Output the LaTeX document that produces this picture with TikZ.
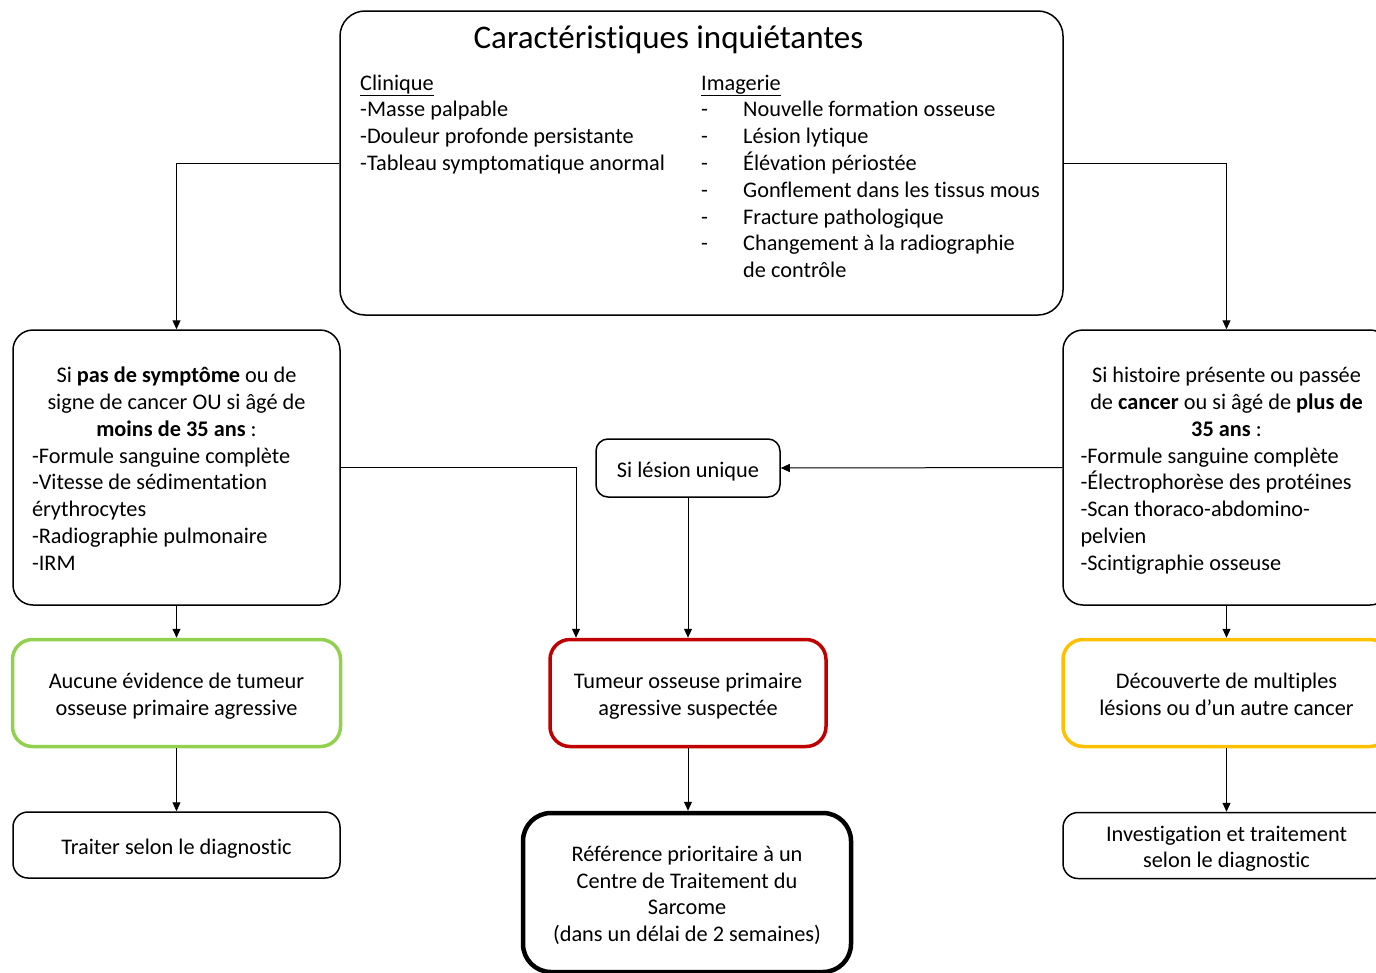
\documentclass[tikz,border=0pt]{standalone}
\usepackage{fontspec}
\setmainfont{Carlito}[Ligatures=NoCommon]
\usetikzlibrary{arrows.meta}
\definecolor{okgreen}{HTML}{92D050}
\definecolor{alertred}{HTML}{C00000}
\definecolor{warnyellow}{HTML}{FFC000}
\newcommand{\bodyfnt}{\fontsize{22.3}{26.8}\selectfont}
\newcommand{\sidefnt}{\fontsize{22.3}{26.8}\selectfont}
\begin{document}
\begin{tikzpicture}[x=1pt,y=-1pt,
  box/.style={draw, rounded corners=20pt, line width=1.5pt, inner sep=0pt, align=center, font=\bodyfnt,
    text width=300pt, execute at begin node={\spaceskip=\fontdimen2\font\relax\rule{0pt}{26.2pt}}, execute at end node=\strut},
  arr/.style={-{Triangle[length=9pt,width=8pt]}, line width=1pt}]
\useasboundingbox (0,0) rectangle (1376,972);
\clip (0,0) rectangle (1376,972);
% top box
\node[box, rounded corners=25pt, minimum width=723pt, minimum height=304pt] (top) at (701.5,163) {};
\node[anchor=base, inner sep=0pt, font=\fontsize{33}{40}\selectfont] (title) at (668.5,48) {Caractéristiques inquiétantes};
\node[anchor=north west, inner sep=0pt, font=\bodyfnt, align=left] (crit) at (360,71.2) {%
\begin{tabular}{@{}p{341pt}@{}p{42pt}@{}l@{}}
\underline{Clinique} & \multicolumn{2}{@{}l@{}}{\underline{Imagerie}}\\
-Masse palpable & - & Nouvelle formation osseuse\\
-Douleur profonde persistante & - & Lésion lytique\\
-Tableau symptomatique anormal & - & Élévation périostée\\
 & - & Gonflement dans les tissus mous\\
 & - & Fracture pathologique\\
 & - & Changement à la radiographie\\
 & & de contrôle
\end{tabular}};
% second row
\node[box, font=\sidefnt, minimum width=327pt, minimum height=275pt, text width=289pt, align=left] (left) at (176.5,467.5) {%
\centering Si \textbf{pas de symptôme} ou de\\ signe de cancer OU si âgé de\\ \textbf{moins de 35 ans} :\par
\raggedright -Formule sanguine complète\\ -Vitesse de sédimentation\\ érythrocytes\\ -Radiographie pulmonaire\\ -IRM};
\node[box, font=\sidefnt, minimum width=327pt, minimum height=275pt, text width=292pt, align=left] (right) at (1226.5,467.5) {%
\centering Si histoire présente ou passée\\ de \textbf{cancer} ou si âgé de \textbf{plus de}\\ \textbf{35 ans} :\par
\raggedright -Formule sanguine complète\\ -Électrophorèse des protéines\\ -Scan thoraco-abdomino-\\ pelvien\\ -Scintigraphie osseuse};
\node[box, rounded corners=12pt, text width=170pt, minimum width=184pt, minimum height=58pt] (unique) at (688,468) {Si lésion unique};
% third row
\node[box, draw=okgreen, line width=3.5pt, minimum width=328pt, minimum height=107pt] (green) at (176.5,693) {Aucune évidence de tumeur\\ osseuse primaire agressive};
\node[box, draw=alertred, line width=3.5pt, text width=260pt, minimum width=276pt, minimum height=107pt] (red) at (688,693) {Tumeur osseuse primaire\\ agressive suspectée};
\node[box, draw=warnyellow, line width=3.5pt, minimum width=327pt, minimum height=107pt] (yellow) at (1226.5,693) {Découverte de multiples\\ lésions ou d’un autre cancer};
% fourth row
\node[box, rounded corners=15pt, minimum width=327pt, minimum height=66pt] (treat) at (176.5,845) {Traiter selon le diagnostic};
\node[box, line width=4.5pt, rounded corners=28pt, minimum width=328pt, minimum height=159pt] (refer) at (687,892.5) {Référence prioritaire à un\\ Centre de Traitement du\\ Sarcome\\ (dans un délai de 2 semaines)};
\node[box, rounded corners=15pt, minimum width=327pt, minimum height=66pt] (invest) at (1226.5,845.5) {Investigation et traitement\\ selon le diagnostic};
% connectors
\draw[arr] (top.west) -| (left.north);
\draw[arr] (top.east) -| (right.north);
\draw[arr] (left.east) -| ([xshift=-112pt]red.north);
\draw[arr] (right.west) -- (unique.east);
\draw[arr] (unique.south) -- (red.north);
\draw[arr] (left.south) -- (green.north);
\draw[arr] (green.south) -- (treat.north);
\draw[arr] (red.south) -- (red.south |- refer.north);
\draw[arr] (right.south) -- (yellow.north);
\draw[arr] (yellow.south) -- (invest.north);
\end{tikzpicture}
\end{document}
